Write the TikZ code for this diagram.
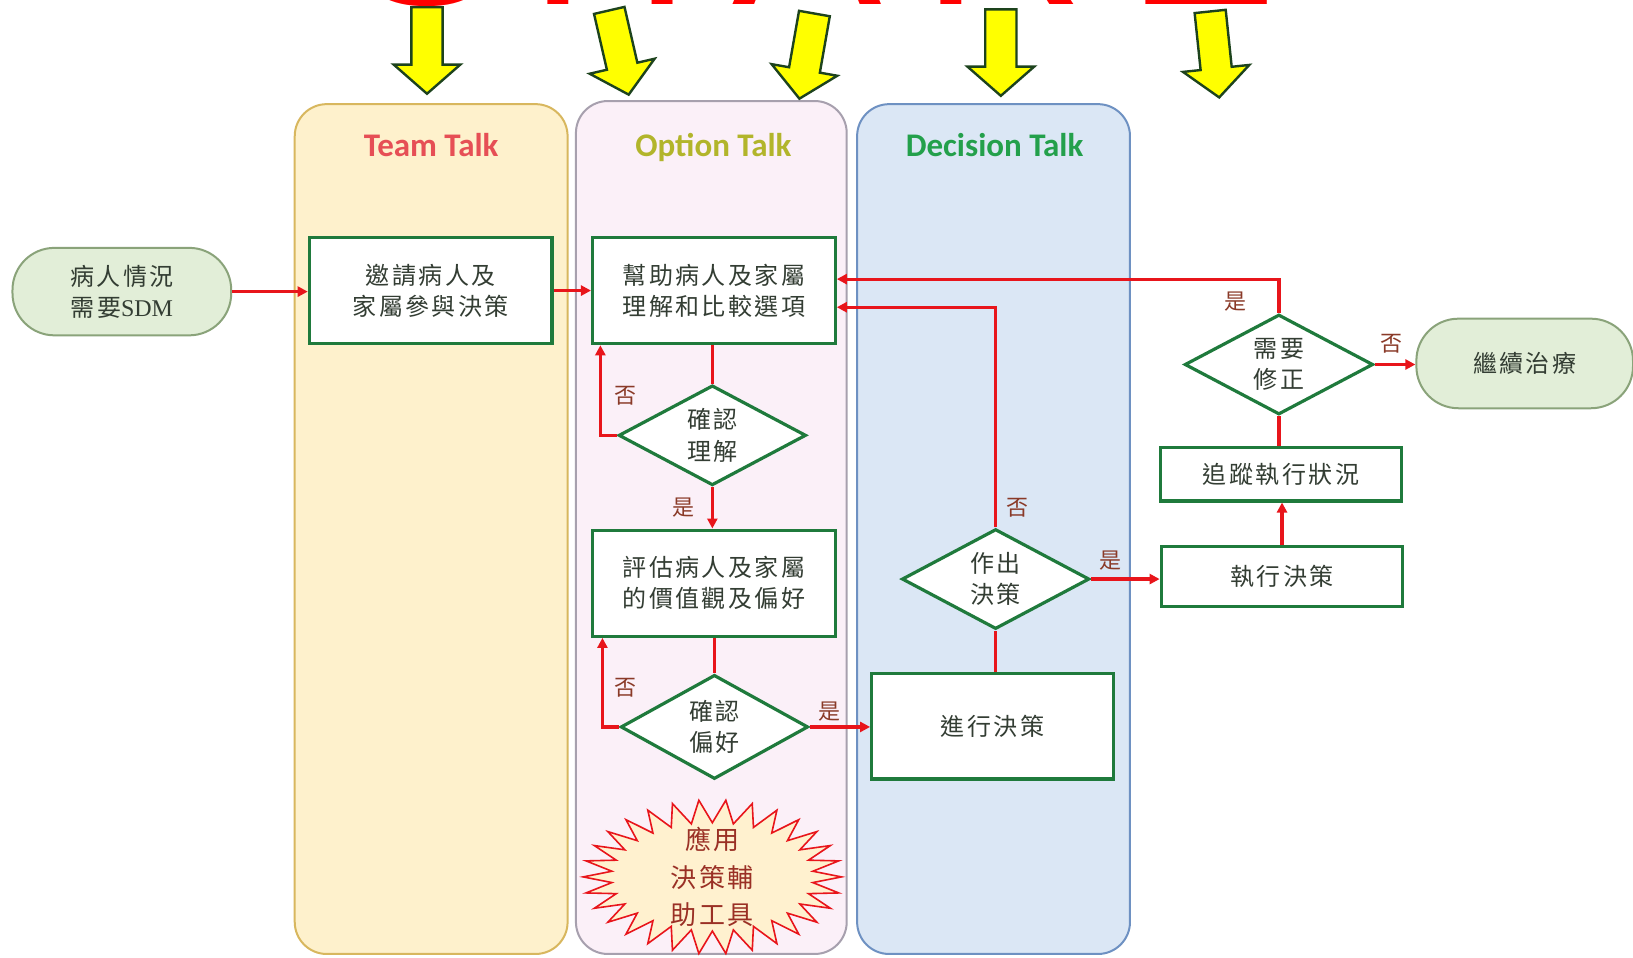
\documentclass[tikz,border=0pt]{standalone}
\usepackage{fontspec}
\setmainfont{Liberation Serif}
\newfontfamily\cjk{Noto Sans CJK TC}[LetterSpace=10]
\newfontfamily\cjkplain{Noto Sans CJK TC}
\newfontfamily\sdm{Liberation Serif}
\newfontfamily\titlefont{Carlito}
\newfontfamily\sharefont{Liberation Sans}
\usetikzlibrary{shapes.geometric, arrows.meta, calc}

\definecolor{flowred}{HTML}{E8151B}
\definecolor{boxgreen}{HTML}{1F7A3C}
\definecolor{txt}{HTML}{333D33}
\definecolor{lblbrown}{HTML}{8A3A28}
\definecolor{termfill}{HTML}{E2EED8}
\definecolor{termline}{HTML}{8AA37A}
\definecolor{teamfill}{HTML}{FEF1CC}
\definecolor{teamline}{HTML}{D8B75E}
\definecolor{optfill}{HTML}{FBF0F8}
\definecolor{optline}{HTML}{A7A0AE}
\definecolor{decfill}{HTML}{DBE7F5}
\definecolor{decline}{HTML}{6E91C2}
\definecolor{teamtitle}{HTML}{E64F55}
\definecolor{opttitle}{HTML}{B2B52B}
\definecolor{dectitle}{HTML}{23A04B}
\definecolor{yarrowfill}{HTML}{FFFF00}
\definecolor{yarrowline}{HTML}{1D431D}
\definecolor{burstfill}{HTML}{FFF1CF}
\definecolor{bursttext}{HTML}{9A3025}
\definecolor{sharered}{HTML}{FF0000}

\def\pxu{0.5207pt}

\tikzset{
  cjktext/.style={font=\cjk\fontsize{12}{15.6}\selectfont, text=txt, align=center},
  lane/.style={rectangle, rounded corners=16pt, line width=1pt, minimum width=262*\pxu, minimum height=816*\pxu},
  lanetitle/.style={font=\titlefont\bfseries\fontsize{16.5}{20}\selectfont, inner sep=0pt, anchor=base},
  term/.style={rectangle, rounded corners=21pt, minimum width=210*\pxu, minimum height=84*\pxu,
    fill=termfill, draw=termline, line width=1pt, cjktext},
  box/.style={rectangle, draw=boxgreen, line width=1.6pt, fill=white, minimum width=233*\pxu, cjktext},
  dia/.style={diamond, shape aspect=1.875, inner sep=0pt, minimum width=180*\pxu, minimum height=96*\pxu,
    draw=boxgreen, line width=1.6pt, fill=white, cjktext},
  flow/.style={draw=flowred, line width=1.6pt},
  arr/.style={flow, -{Triangle[length=5pt,width=5pt]}},
  lbl/.style={font=\cjkplain\fontsize{11}{13}\selectfont, text=lblbrown, inner sep=0pt},
  share/.style={anchor=base, inner sep=0pt, text=sharered, font=\sharefont\fontsize{112}{112}\selectfont},
  yarrowstyle/.style={fill=yarrowfill, draw=yarrowline, line width=1.2pt, line join=miter},
  yarrow/.pic={\draw[yarrowstyle] (-15,0) -- (15,0) -- (15,55) -- (32,55) -- (0,83) -- (-32,55) -- (-15,55) -- cycle;},
  bursttxt/.style={font=\cjk\fontsize{13}{18.7}\selectfont, text=bursttext, align=center, inner sep=0pt}
}

\begin{document}
\begin{tikzpicture}[x=0.5207pt, y=-0.5207pt]
\useasboundingbox (0,0) rectangle (1568,919);
\clip (0,0) rectangle (1568,919);
\fill[white] (0,0) rectangle (1568,919);

% swim lanes
\node[lane, fill=teamfill, draw=teamline] (teamlane) at (414,508) {};
\node[lane, fill=optfill, draw=optline, minimum width=260*\pxu, minimum height=819*\pxu] (optlane) at (683,506.5) {};
\node[lane, fill=decfill, draw=decline] (declane) at (954,508) {};
\node[lanetitle, text=teamtitle] (teamT) at (414,150) {Team Talk};
\node[lanetitle, text=opttitle] (optT) at (685,150) {Option Talk};
\node[lanetitle, text=dectitle] (decT) at (955,150) {Decision Talk};

% cut-off title letters
\node[share] (sS) at (409,4.5) {S};
\node[share] (sH) at (586,4.5) {H};
\node[share] (sA) at (775,4.5) {A};
\node[share] (sR) at (963,4.5) {R};
\node[share] (sE) at (1154,4.5) {E};

% yellow arrows
\pic at (410,7) {yarrow};
\pic[rotate=13] at (585,10) {yarrow};
\pic[rotate=-10] at (782,13) {yarrow};
\pic at (961,9) {yarrow};
\pic[rotate=6] at (1162,11) {yarrow};

% burst
\draw[fill=burstfill, draw=flowred, line width=0.8pt]
  plot[domain=0:59, samples=60, variable=\k]
  ({684+ifthenelse(mod(round(\k),2)==0,124,97)*cos(6*\k)},
   {842+ifthenelse(mod(round(\k),2)==0,74,52)*sin(6*\k)}) -- cycle;
\node[bursttxt] (tool) at (684,842) {應用\\決策輔\\助工具};

% nodes
\node[term] (start) at (117,280) {病人情況\\需要{\sdm SDM}};
\node[box, minimum height=102*\pxu] (invite) at (413.5,279) {邀請病人及\\家屬參與決策};
\node[box, minimum height=102*\pxu] (help) at (685.5,279) {幫助病人及家屬\\理解和比較選項};
\node[dia] (d1) at (684,418) {確認\\理解};
\node[box, minimum height=102*\pxu] (eval) at (685.5,560) {評估病人及家屬\\的價值觀及偏好};
\node[dia, minimum height=100*\pxu] (d2) at (686,698) {確認\\偏好};
\node[box, minimum width=232*\pxu, minimum height=101*\pxu] (proceed) at (953,697.5) {進行決策};
\node[dia] (d3) at (956,556) {作出\\決策};
\node[box, minimum width=232*\pxu, minimum height=57*\pxu] (exec) at (1231,553.5) {執行決策};
\node[box, minimum width=232*\pxu, minimum height=51*\pxu] (track) at (1230,455.5) {追蹤執行狀況};
\node[dia, minimum width=181*\pxu] (d4) at (1228,350) {需要\\修正};
\node[term, minimum width=208*\pxu, minimum height=86*\pxu] (end) at (1464,349) {繼續治療};

% connectors
\draw[arr] (start.east) -- (start.east -| invite.west);
\draw[arr] (invite.east) -- (help.west);
\draw[flow] (help.south -| d1.north) -- (d1.north);
\draw[arr] (d1.west) -| ($(help.south west)+(9,0)$);
\draw[arr] (d1.south) -- (d1.south |- eval.north);
\draw[flow] (eval.south -| d2.north) -- (d2.north);
\draw[arr] (d2.west) -| ($(eval.south west)+(11,0)$);
\draw[arr] (d2.east) -- (d2.east -| proceed.west);
\draw[flow] (proceed.north -| d3.south) -- (d3.south);
\draw[arr] (d3.north) |- ($(help.east)+(0,16)$);
\draw[arr] (d3.east) -- (d3.east -| exec.west);
\draw[arr] (exec.north) -- (exec.north |- track.south);
\draw[flow] (track.north -| d4.south) -- (d4.south);
\draw[arr] (d4.north) |- ($(help.east)+(0,-11)$);
\draw[arr] (d4.east) -- (d4.east -| end.west);

% labels
\node[lbl] (no1) at (601,380) {否};
\node[lbl] (yes1) at (656,487) {是};
\node[lbl] (no2) at (601,660) {否};
\node[lbl] (yes2) at (796,683) {是};
\node[lbl] (no3) at (977,488) {否};
\node[lbl] (yes3) at (1066,538) {是};
\node[lbl] (yes4) at (1186,290) {是};
\node[lbl] (no4) at (1336,330) {否};
\end{tikzpicture}
\end{document}
